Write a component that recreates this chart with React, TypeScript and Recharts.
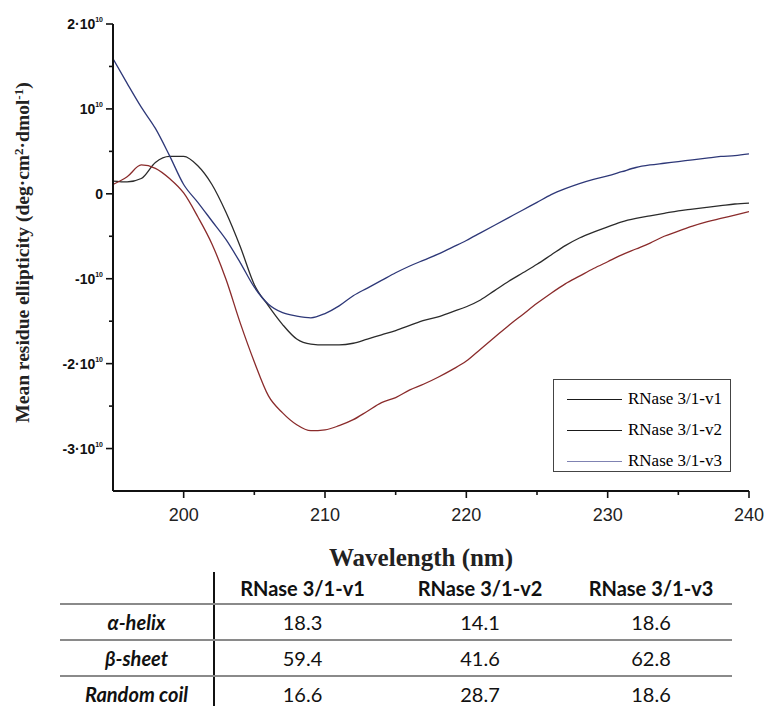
import React from "react";
import { LineChart, Line, XAxis, YAxis, Legend, Label } from "recharts";

// Wavelength (nm)
const wavelengths = [
  195, 196, 197, 198, 199, 200, 201, 202, 203, 204, 205, 206, 207, 208, 209, 210,
  211, 212, 213, 214, 215, 216, 217, 218, 219, 220, 221, 222, 223, 224, 225, 226,
  227, 228, 229, 230, 231, 232, 233, 234, 235, 236, 237, 238, 239, 240,
];

// Mean residue ellipticity, in units of 10^10 deg·cm²·dmol⁻¹
const UNIT = 1e10;
const v1 = [
  0.15, 0.14, 0.18, 0.37, 0.44, 0.44, 0.33, 0.11, -0.22, -0.62, -1.07, -1.32, -1.54, -1.71, -1.77, -1.78,
  -1.78, -1.76, -1.71, -1.66, -1.61, -1.55, -1.49, -1.45, -1.39, -1.33, -1.25, -1.14, -1.03, -0.93, -0.83, -0.72,
  -0.61, -0.52, -0.45, -0.39, -0.33, -0.29, -0.26, -0.23, -0.2, -0.18, -0.16, -0.14, -0.12, -0.11,
];
const v2 = [
  0.11, 0.2, 0.34, 0.3, 0.18, 0.01, -0.27, -0.59, -1.01, -1.52, -1.98, -2.38, -2.58, -2.72, -2.79, -2.78,
  -2.73, -2.66, -2.56, -2.46, -2.4, -2.31, -2.24, -2.16, -2.07, -1.97, -1.83, -1.69, -1.55, -1.42, -1.29, -1.17,
  -1.06, -0.97, -0.88, -0.8, -0.72, -0.65, -0.58, -0.5, -0.44, -0.38, -0.33, -0.29, -0.25, -0.21,
];
const v3 = [
  1.59, 1.3, 1.02, 0.77, 0.45, 0.11, -0.1, -0.32, -0.54, -0.81, -1.1, -1.3, -1.4, -1.44, -1.46, -1.41,
  -1.32, -1.2, -1.11, -1.02, -0.93, -0.85, -0.78, -0.71, -0.63, -0.55, -0.46, -0.37, -0.28, -0.19, -0.1, -0.01,
  0.06, 0.12, 0.17, 0.21, 0.26, 0.31, 0.34, 0.36, 0.38, 0.4, 0.42, 0.44, 0.45, 0.47,
];

const seriesNames = ["RNase 3/1-v1", "RNase 3/1-v2", "RNase 3/1-v3"];
const seriesColors = ["#2b2b2b", "#8a2b2b", "#2e3878"];
const legendColors = ["#1a1a1a", "#1a1a1a", "#7f82b2"];

const xTicks = [200, 205, 210, 215, 220, 225, 230, 235, 240];
const yTicks = [-3, -2.5, -2, -1.5, -1, -0.5, 0, 0.5, 1, 1.5, 2].map((t) => t * UNIT);

// Secondary structure table
const tableRows = ["α-helix", "β-sheet", "Random coil"];
const helix = ["18.3", "14.1", "18.6"];
const sheet = ["59.4", "41.6", "62.8"];
const coil = ["16.6", "28.7", "18.6"];
const tableValues = [helix, sheet, coil];

const data = wavelengths.map((wl, i) => ({
  wl,
  v1: v1[i] * UNIT,
  v2: v2[i] * UNIT,
  v3: v3[i] * UNIT,
}));

const SANS = "'Liberation Sans', Arial, sans-serif";
const SERIF = "'Liberation Serif', 'Times New Roman', serif";
const TABLE_FONT = "Lato, 'Open Sans', sans-serif";

const YTick = (props: any) => {
  const { x, y, payload } = props;
  const v = Math.round((payload.value / UNIT) * 10) / 10;
  const major = Number.isInteger(v);
  let label: React.ReactNode = null;
  if (major) {
    if (v === 0) label = <tspan>0</tspan>;
    else {
      const mant = Math.abs(v) === 1 ? (v < 0 ? "-" : "") : `${v}·`;
      label = (
        <>
          <tspan>{mant}10</tspan>
          <tspan dy={-7} fontSize={7}>
            10
          </tspan>
        </>
      );
    }
  }
  return (
    <g>
      <line x1={x - (major ? 7 : 4)} x2={x} y1={y} y2={y} stroke="#111" strokeWidth={1.6} />
      {major && (
        <text
          x={x - 10}
          y={y + 5}
          textAnchor="end"
          fontFamily={SANS}
          fontWeight="bold"
          fontSize={14}
          fill="#111"
        >
          {label}
        </text>
      )}
    </g>
  );
};

const XTick = (props: any) => {
  const { x, y, payload } = props;
  const major = payload.value % 10 === 0;
  return (
    <g>
      <line x1={x} x2={x} y1={y} y2={y + (major ? 7 : 4)} stroke="#111" strokeWidth={1.6} />
      {major && (
        <text x={x} y={y + 30} textAnchor="middle" fontFamily={SANS} fontSize={18} fill="#222">
          {payload.value}
        </text>
      )}
    </g>
  );
};

const LegendBox = () => (
  <div
    style={{
      width: 178,
      height: 93,
      boxSizing: "border-box",
      border: "1.5px solid #444",
      background: "#fff",
      position: "relative",
    }}
  >
    {seriesNames.map((name, i) => (
      <div
        key={name}
        style={{
          position: "absolute",
          left: 13,
          top: 8 + i * 31,
          height: 22,
          display: "flex",
          alignItems: "center",
        }}
      >
        <div style={{ width: 55, height: 0, borderTop: `1.5px solid ${legendColors[i]}` }} />
        <span
          style={{
            marginLeft: 6,
            fontFamily: SERIF,
            fontSize: 17,
            color: "#000",
            whiteSpace: "nowrap",
          }}
        >
          {name}
        </span>
      </div>
    ))}
  </div>
);

const cellBase: React.CSSProperties = {
  fontFamily: TABLE_FONT,
  fontSize: 20,
  color: "#111",
  textAlign: "center",
  padding: 0,
  height: 34,
  lineHeight: "20px",
};

export default function App() {
  return (
    <div style={{ position: "absolute", left: 0, top: 0, width: 764, height: 706, background: "#fff" }}>
      <LineChart
        width={764}
        height={706}
        data={data}
        margin={{ top: 24, right: 15, bottom: 185, left: 0 }}
      >
        <XAxis
          dataKey="wl"
          type="number"
          domain={[195, 240]}
          ticks={xTicks}
          allowDataOverflow
          interval={0}
          tickSize={0}
          tickMargin={0}
          tickLine={false}
          tick={<XTick />}
          height={30}
          axisLine={{ stroke: "#111", strokeWidth: 2 }}
        >
          <Label
            content={(p: any) => {
              const vb = p.viewBox;
              return (
                <text
                  x={vb.x + vb.width / 2 - 10}
                  y={vb.y + vb.height + 45}
                  textAnchor="middle"
                  fontFamily={SERIF}
                  fontWeight="bold"
                  fontSize={25}
                  fill="#222"
                >
                  Wavelength (nm)
                </text>
              );
            }}
          />
        </XAxis>
        <YAxis
          type="number"
          domain={[-3.5 * UNIT, 2 * UNIT]}
          ticks={yTicks}
          allowDataOverflow
          interval={0}
          width={113}
          tickSize={0}
          tickMargin={0}
          tickLine={false}
          tick={<YTick />}
          axisLine={{ stroke: "#111", strokeWidth: 2 }}
        >
          <Label
            content={(p: any) => {
              const vb = p.viewBox;
              const cx = vb.x + 29;
              const cy = vb.y + vb.height / 2 - 5;
              return (
                <text
                  x={cx}
                  y={cy}
                  transform={`rotate(-90 ${cx} ${cy})`}
                  textAnchor="middle"
                  fontFamily={SERIF}
                  fontWeight="bold"
                  fontSize={19.5}
                  fill="#222"
                >
                  Mean residue ellipticity (deg·cm
                  <tspan dy={-6} fontSize={13}>2</tspan>
                  <tspan dy={6}>·dmol</tspan>
                  <tspan dy={-6} fontSize={13}>-1</tspan>
                  <tspan dy={6}>)</tspan>
                </text>
              );
            }}
          />
        </YAxis>
        <Legend
          layout="vertical"
          align="center"
          verticalAlign="middle"
          content={<LegendBox />}
          wrapperStyle={{ left: 553, top: 379, width: 178, height: 93, bottom: "auto", right: "auto" }}
        />
        <Line type="monotone" dataKey="v1" name={seriesNames[0]} stroke={seriesColors[0]} strokeWidth={1.3} dot={false} isAnimationActive={false} />
        <Line type="monotone" dataKey="v2" name={seriesNames[1]} stroke={seriesColors[1]} strokeWidth={1.3} dot={false} isAnimationActive={false} />
        <Line type="monotone" dataKey="v3" name={seriesNames[2]} stroke={seriesColors[2]} strokeWidth={1.3} dot={false} isAnimationActive={false} />
      </LineChart>

      <table
        style={{
          position: "absolute",
          left: 60,
          top: 572,
          width: 672,
          borderCollapse: "collapse",
          tableLayout: "fixed",
        }}
      >
        <colgroup>
          <col style={{ width: 154 }} />
          <col style={{ width: 176 }} />
          <col style={{ width: 180 }} />
          <col style={{ width: 162 }} />
        </colgroup>
        <tbody>
          <tr>
            <td style={{ ...cellBase, height: 31, borderRight: "2px solid #111", borderBottom: "2.5px solid #8a8a8a" }} />
            {seriesNames.map((n) => (
              <td key={n} style={{ ...cellBase, height: 31, fontWeight: 700, borderBottom: "2.5px solid #8a8a8a" }}>
                {n}
              </td>
            ))}
          </tr>
          {tableRows.map((r, i) => (
            <tr key={r}>
              <td
                style={{
                  ...cellBase,
                  fontWeight: 700,
                  fontStyle: "italic",
                  borderRight: "2px solid #111",
                  borderBottom: i < tableRows.length - 1 ? "2.5px solid #8a8a8a" : "none",
                }}
              >
                {r}
              </td>
              {tableValues[i].map((v, j) => (
                <td
                  key={j}
                  style={{
                    ...cellBase,
                    borderBottom: i < tableRows.length - 1 ? "2.5px solid #8a8a8a" : "none",
                  }}
                >
                  {v}
                </td>
              ))}
            </tr>
          ))}
        </tbody>
      </table>
    </div>
  );
}
